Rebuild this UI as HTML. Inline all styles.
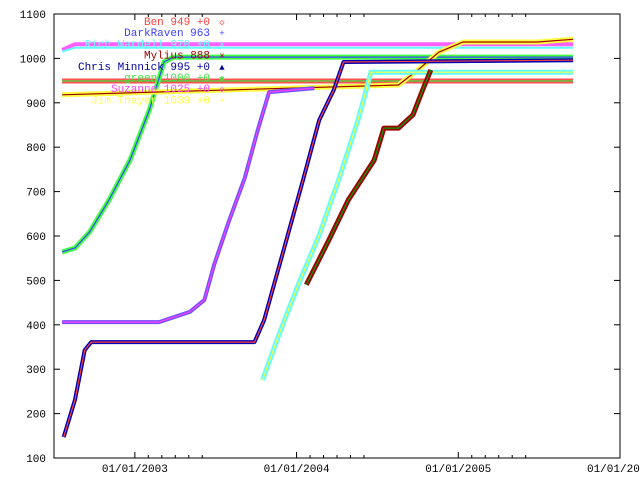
<!DOCTYPE html>
<html><head><meta charset="utf-8"><style>
body{margin:0;background:#fff}
svg{display:block;font-family:"Liberation Mono","DejaVu Sans Mono",monospace;font-size:11px}
</style></head><body>
<svg id="chart" width="640" height="480" viewBox="0 0 640 480"></svg>
<script>
const yTicks=[100,200,300,400,500,600,700,800,900,1000,1100];
const xTickYears=[2003,2004,2005,2006];
const xTickLabels=["01/01/2003","01/01/2004","01/01/2005","01/01/2006"];
const names=["Ben 949 +0","DarkRaven 963","Rich Wardell 970 +0","Mylius 888","Chris Minnick 995 +0","green 1000 +0","Suzanne 1025 +0","Jim Thayer 1039 +0"];
const legendColors=["#ff4040","#4040ff","#60ffff","#a00000","#0000a0","#40e040","#ff40ff","#ffff40"];
const legendSyms=["◇","+","×","×","▲","✱","◇","+"];
// series: [thick colour, thin colour, dates, values]
const magX=[2002.55,2002.63,2005.71], magY=[1019,1032,1032];
const cyTopX=[2002.55,2002.63,2005.71], cyTopY=[1015,1024,1024];
const greenX=[2002.55,2002.63,2002.72,2002.84,2002.97,2003.09,2003.18,2003.24,2005.71];
const greenY=[564,573,609,681,771,884,992,1003,1003];
const benX=[2002.55,2005.71], benY=[949,949];
const jimX=[2002.55,2004.63,2004.75,2004.88,2005.03,2005.49,2005.71];
const jimY=[918,940,974,1014,1037,1037,1043];
const drX=[2002.55,2003.15,2003.34,2003.43,2003.49,2003.58,2003.68,2003.76,2003.83,2004.11];
const drY=[406,406,429,456,535,632,731,839,924,933];
const cmX=[2002.56,2002.63,2002.69,2002.73,2003.74,2003.80,2003.92,2004.04,2004.14,2004.23,2004.29,2005.71];
const cmY=[147,231,343,361,361,411,568,726,861,929,992,996];
const rwX=[2003.79,2003.89,2004.01,2004.14,2004.26,2004.38,2004.46,2005.71];
const rwY=[276,377,490,602,726,861,969,969];
const myX=[2004.06,2004.20,2004.32,2004.48,2004.54,2004.63,2004.72,2004.78,2004.83];
const myY=[490,591,681,771,843,843,873,929,974];

const L=54,R=620,T=14,B=458;
const xs=t=>L+(t-2002.5)*(R-L)/3.5;
const ys=v=>B-(v-100)*(B-T)/1000;
const svg=document.getElementById('chart');
const NS="http://www.w3.org/2000/svg";
function mk(tag,attrs,parent){const e=document.createElementNS(NS,tag);for(const k in attrs)e.setAttribute(k,attrs[k]);(parent||svg).appendChild(e);return e;}

const plot=mk('g',{});


function series(xa,ya,thick,thin,w,name){
  const pts=xa.map((x,i)=>xs(x).toFixed(1)+','+ys(ya[i]).toFixed(1)).join(' ');
  const g=mk('g',{},plot);
  
  
  mk('polyline',{points:pts,fill:'none',stroke:thick,'stroke-width':w,'stroke-linejoin':'round'},g);
  if(thin) mk('polyline',{points:pts,fill:'none',stroke:thin,'stroke-width':1.2},g);
}
series(magX,magY,'#ff60ff',null,4,'series-suzanne');
series(cyTopX,cyTopY,'#60ffff',null,2,'series-cyan-top');
series(benX,benY,'#ff5050','#40e040',5,'series-ben');
series(greenX,greenY,'#40ff40','#4040ff',5,'series-green');
series(jimX,jimY,'#ffff40','#a00000',5,'series-jim-thayer');
series(drX,drY,'#7050ff','#ff40ff',4,'series-darkraven');
series(cmX,cmY,'#0000b0','#ff4040',4,'series-chris-minnick');
series(rwX,rwY,'#60ffff','#ffff40',5,'series-rich-wardell');
series(myX,myY,'#a00000','#00a000',5,'series-mylius');

// axes
const ax=mk('g',{});


mk('rect',{x:L,y:T,width:R-L,height:B-T,fill:'none',stroke:'#000','stroke-width':1},ax);
yTicks.forEach(v=>{
  const y=ys(v);
  mk('line',{x1:L,y1:y,x2:L+6,y2:y,stroke:'#000'},ax);
  mk('line',{x1:R,y1:y,x2:R-6,y2:y,stroke:'#000'},ax);
  const t=mk('text',{x:L-8,y:y+4,'text-anchor':'end',fill:'#000'},ax);
  t.textContent=v;
  
  
});
xTickYears.forEach((yr,i)=>{
  const x=xs(yr);
  mk('line',{x1:x,y1:B,x2:x,y2:B-6,stroke:'#000'},ax);
  mk('line',{x1:x,y1:T,x2:x,y2:T+6,stroke:'#000'},ax);
  for(let m=1;m<=5;m++){const xm=xs(yr+m/12);if(xm<R){mk('line',{x1:xm,y1:B,x2:xm,y2:B-3,stroke:'#000'},ax);mk('line',{x1:xm,y1:T,x2:xm,y2:T+3,stroke:'#000'},ax);}}
  const t=mk('text',{x:x,y:B+14,'text-anchor':'middle',fill:'#000'},ax);
  t.textContent=xTickLabels[i];
  
  
});

// legend
const lg=mk('g',{});


names.forEach((n,i)=>{
  const y=25+i*11.2;
  const t=mk('text',{x:210,y:y,'text-anchor':'end',fill:legendColors[i]},lg);
  t.textContent=n;
  
  
  const s=mk('text',{x:222,y:y,'text-anchor':'middle',fill:legendColors[i],'font-size':'9px'},lg);
  s.textContent=legendSyms[i];
  
  
});
</script>
</body></html>
